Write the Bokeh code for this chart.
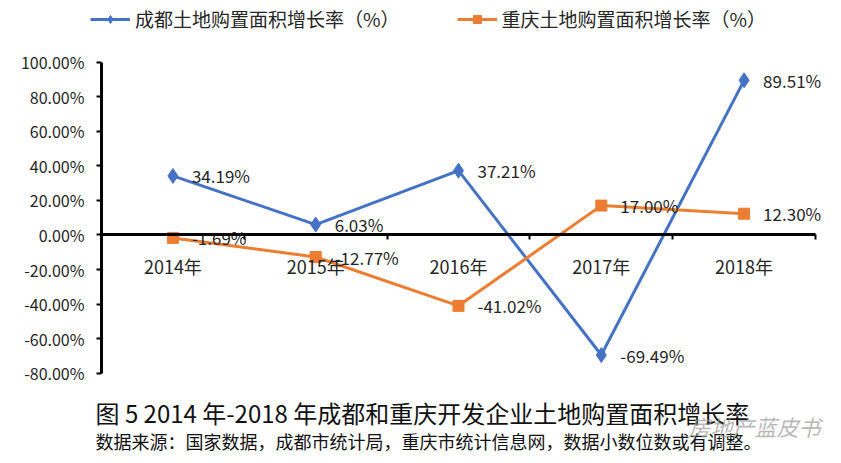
from bokeh.plotting import figure
from bokeh.models import (Range1d, LinearAxis, FixedTicker, Legend, LegendItem,
                          Label, ColumnDataSource)
from bokeh.core.properties import value
from bokeh.embed import file_html
from bokeh.resources import INLINE

# ---- data ----
years = ["2014年", "2015年", "2016年", "2017年", "2018年"]
chengdu = [34.19, 6.03, 37.21, -69.49, 89.51]
chongqing = [-1.69, -12.77, -41.02, 17.00, 12.30]
series_names = ["成都土地购置面积增长率（%）", "重庆土地购置面积增长率（%）"]
y_ticks = [-80, -60, -40, -20, 0, 20, 40, 60, 80, 100]
caption1 = "图 5 2014 年-2018 年成都和重庆开发企业土地购置面积增长率"
caption2 = "数据来源：国家数据，成都市统计局，重庆市统计信息网，数据小数位数或有调整。"
watermark = "房地产蓝皮书"

FONT = "Noto Sans CJK SC"
BLUE = "#4472C4"
ORANGE = "#ED7D31"
TXT = "#262626"

W, H = 841, 463
# pixel layout of the plotting area inside the canvas
PL, PR, PT, PB = 101, 815, 61.7, 372.7

n = len(years)
ymin, ymax = y_ticks[0], y_ticks[-1]
xpx = (PR - PL) / n
ypx = (PB - PT) / (ymax - ymin)
x_range = Range1d(-PL / xpx, n + (W - PR) / xpx)
y_range = Range1d(ymin - (H - PB) / ypx, ymax + PT / ypx)

xs = [i + 0.5 for i in range(n)]
src_cd = ColumnDataSource(dict(x=xs, y=chengdu, t=[f"{v:.2f}%" for v in chengdu]))
src_cq = ColumnDataSource(dict(x=xs, y=chongqing, t=[f"{v:.2f}%" for v in chongqing]))

p = figure(width=W, height=H, output_backend="svg", toolbar_location=None,
           x_range=x_range, y_range=y_range,
           x_axis_type=None, y_axis_type=None, min_border=0)
p.outline_line_color = None
p.grid.visible = False
p.background_fill_color = "white"
p.border_fill_color = "white"

# y axis
ya = LinearAxis(fixed_location=0, bounds=(ymin, ymax), ticker=FixedTicker(ticks=y_ticks),
                major_label_overrides={v: f"{v:.2f}%" for v in y_ticks},
                major_label_text_font=FONT, major_label_text_font_size="16px",
                major_label_text_color=TXT, axis_line_width=3, axis_line_color="black",
                major_tick_line_width=2, major_tick_in=0, major_tick_out=5,
                minor_tick_line_color=None, major_label_standoff=12)
p.add_layout(ya, "left")

# x axis at zero: labels at category centres, ticks at category boundaries
xa = LinearAxis(fixed_location=0, bounds=(0, n),
                ticker=FixedTicker(ticks=xs, minor_ticks=list(range(n + 1))),
                major_label_overrides={x: y for x, y in zip(xs, years)},
                axis_line_width=3, axis_line_color="black",
                major_tick_line_color=None, major_tick_in=0, major_tick_out=0,
                minor_tick_line_color="black", minor_tick_line_width=2,
                minor_tick_in=0, minor_tick_out=5,
                major_label_standoff=13, major_label_text_font=FONT,
                major_label_text_font_size="18px", major_label_text_color=TXT)
p.add_layout(xa, "below")

# series
l1 = p.line("x", "y", source=src_cd, color=BLUE, line_width=3)
m1 = p.scatter("x", "y", source=src_cd, marker="diamond", size=15, color=BLUE)
l2 = p.line("x", "y", source=src_cq, color=ORANGE, line_width=3)
m2 = p.scatter("x", "y", source=src_cq, marker="square", size=11, color=ORANGE)

for s in (src_cd, src_cq):
    p.text("x", "y", text="t", source=s, x_offset=19, text_baseline="middle",
           text_align="left", text_font=value(FONT), text_font_size="17px",
           text_color=TXT)

legend = Legend(items=[LegendItem(label=series_names[0], renderers=[l1, m1]),
                       LegendItem(label=series_names[1], renderers=[l2, m2])],
                orientation="horizontal", location=(90, 431), padding=0, margin=0,
                spacing=57, glyph_width=40, glyph_height=20, label_height=20,
                label_standoff=5, label_text_font=FONT, label_text_font_size="19px",
                label_text_color=TXT, border_line_color=None,
                background_fill_alpha=0)
p.add_layout(legend, "center")

p.add_layout(Label(x=95, y=51, x_units="screen", y_units="screen", text=caption1,
                   text_font=FONT, text_font_size="24px", text_baseline="middle",
                   text_color="#111111"))
p.add_layout(Label(x=95, y=23, x_units="screen", y_units="screen", text=caption2,
                   text_font=FONT, text_font_size="18px", text_baseline="middle",
                   text_color="#111111"))
p.add_layout(Label(x=688, y=38, x_units="screen", y_units="screen", text=watermark,
                   text_font=FONT, text_font_size="22px", text_font_style="italic",
                   text_baseline="middle", text_color="#999999", text_alpha=0.7))

open("out.html", "w").write(file_html(p, INLINE))
